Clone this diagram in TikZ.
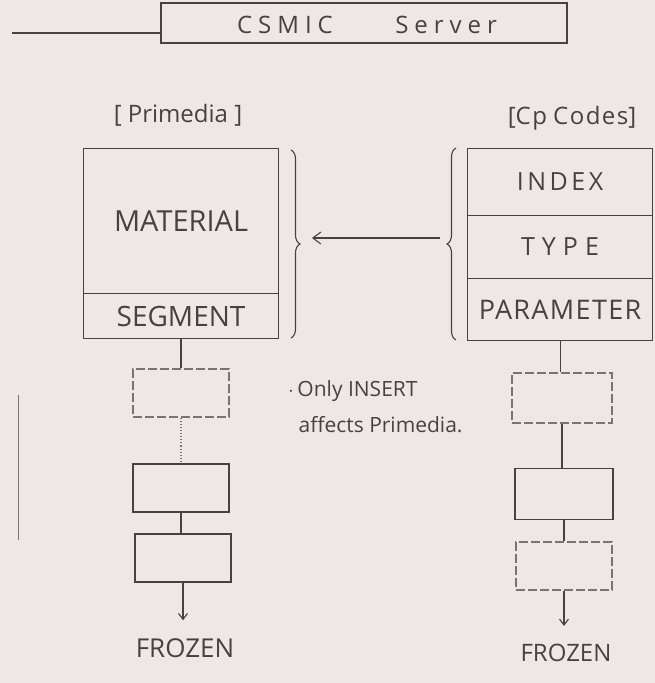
\documentclass[tikz,border=0pt]{standalone}
\usepackage{fontspec}
\setmainfont{Open Sans}
\usetikzlibrary{decorations.pathreplacing,arrows.meta}
\definecolor{paper}{RGB}{237,232,231}
\definecolor{ink}{RGB}{70,66,66}
\definecolor{faint}{RGB}{120,116,116}
\newcommand{\spaced}[2]{{\addfontfeature{LetterSpace=#1}#2}}
\tikzset{
  every node/.style={text=ink, inner sep=0pt},
  line/.style={draw=ink, line width=1.1pt},
  field/.style={line, rectangle, anchor=north west},
  smallbox/.style={line, rectangle, minimum width=96pt, minimum height=48pt},
  sketchy/.style={smallbox, draw=faint, dash pattern=on 9pt off 3pt},
  bracebar/.style={line, decorate, decoration={brace, amplitude=9pt}},
  headarrow/.style={line, -{Straight Barb[length=6pt,width=9pt]}},
}
\begin{document}
\begin{tikzpicture}[x=1pt,y=-1pt]
\fill[paper] (0,0) rectangle (655,683);
\useasboundingbox (0,0) rectangle (655,683);

% server
\node[line, minimum width=406pt, minimum height=40pt] (server) at (364,23) {};
\node[font=\fontsize{24}{26}\selectfont] (servertext) at (367,25) {\spaced{25}{CSMIC}\hspace{2.6em}\spaced{25}{Server}};
\coordinate (lineend) at (12,33);
\draw[line] (lineend) -- (server.west |- lineend);

\node[font=\fontsize{24}{26}\selectfont] (prim) at (178,115) {[ Primedia ]};
\node[font=\fontsize{24}{26}\selectfont] (cp) at (572,118) {[\spaced{6}{Cp} \spaced{6}{Codes}]};

% left table
\node[field, minimum width=195pt, minimum height=145pt, font=\fontsize{29}{31}\selectfont] (mat) at (83,148) {MATERIAL};
\node[field, minimum width=195pt, minimum height=45pt, font=\fontsize{28}{30}\selectfont] (seg) at (83,293) {SEGMENT};

% right table
\node[field, minimum width=185pt, minimum height=67pt, font=\fontsize{25}{27}\selectfont] (idx) at (467,148) {\spaced{14}{INDEX}};
\node[field, minimum width=185pt, minimum height=63pt, font=\fontsize{25}{27}\selectfont] (typ) at (467,215) {\spaced{28}{TYPE}};
\node[field, minimum width=185pt, minimum height=62pt, font=\fontsize{27}{29}\selectfont] (par) at (467,278) {\spaced{5}{PARAMETER}};

% braces
\coordinate (lbtop) at (291,150);
\coordinate (lbbot) at (291,338);
\coordinate (rbtop) at (456,148);
\coordinate (rbbot) at (456,340);
\draw[bracebar] (lbtop) -- (lbbot);
\draw[bracebar] (rbbot) -- (rbtop);
\coordinate (ltip) at (312,238);
\coordinate (rtip) at (440,238);
\draw[line, -{Straight Barb[length=8pt,width=12pt]}] (rtip) -- (ltip);

% left chain
\node[sketchy] (l1) at (181,393) {};
\node[smallbox] (l2) at (181,488) {};
\node[smallbox] (l3) at (183,558) {};
\node[font=\fontsize{26}{28}\selectfont] (lfrozen) at (185,648) {FROZEN};
\draw[line] (seg.south -| l1.north) -- (l1.north);
\draw[line, draw=faint, dotted] (l1.south) -- (l2.north);
\draw[line] (l2.south) -- (l2.south |- l3.north);
\draw[headarrow] (l3.south) -- ([yshift=18pt]l3.south |- lfrozen.north);

% right chain
\node[sketchy, minimum width=100pt, minimum height=50pt] (r1) at (562,398) {};
\node[smallbox, minimum width=98pt, minimum height=51pt] (r2) at (564,494) {};
\node[sketchy] (r3) at (564,566) {};
\node[font=\fontsize{24}{26}\selectfont] (rfrozen) at (566,653) {FROZEN};
\draw[line] (par.south) -- (par.south |- r1.north);
\draw[line] (r1.south) -- (r1.south |- r2.north);
\draw[line] (r2.south) -- (r2.south |- r3.north);
\draw[headarrow] (r3.south) -- ([yshift=18pt]r3.south |- rfrozen.north);

% note
\node[font=\fontsize{21}{36}\selectfont, align=left, anchor=north west] (note) at (288,380) {$\cdot$\,Only INSERT\\\hspace{0.5em}affects Primedia.};

% left margin mark
\coordinate (mtop) at (18,395);
\coordinate (mbot) at (18,540);
\draw[line, draw=faint, line width=0.8pt] (mtop) -- (mbot);
\end{tikzpicture}
\end{document}
